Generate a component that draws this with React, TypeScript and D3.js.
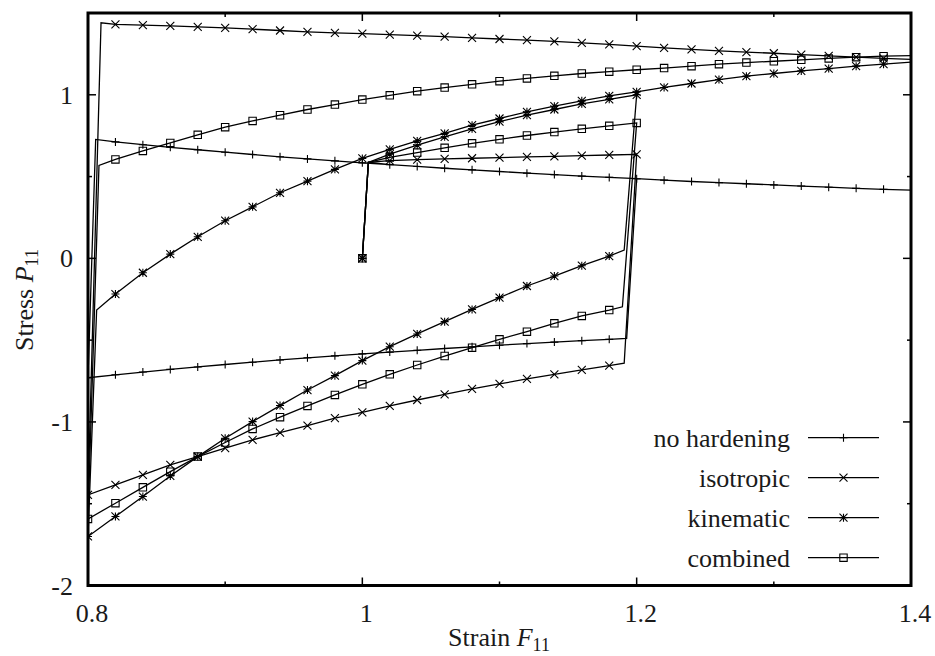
import React from "react";
import * as d3 from "d3";

// ---- data ----
const START = [1.0, 0.0];
const YIELD_PT = [1.0044, 0.587];

const STRAIN_A = [1.02, 1.04, 1.06, 1.08, 1.1, 1.12, 1.14, 1.16, 1.18, 1.2];
const STRAIN_B = [1.18, 1.16, 1.14, 1.12, 1.1, 1.08, 1.06, 1.04, 1.02, 1.0, 0.98, 0.96, 0.94, 0.92, 0.9, 0.88, 0.86, 0.84, 0.82, 0.8];
const STRAIN_C = [0.82, 0.84, 0.86, 0.88, 0.9, 0.92, 0.94, 0.96, 0.98, 1.0, 1.02, 1.04, 1.06, 1.08, 1.1, 1.12, 1.14, 1.16, 1.18, 1.2, 1.22, 1.24, 1.26, 1.28, 1.3, 1.32, 1.34, 1.36, 1.38];
const STRAIN_END = 1.4;

// no hardening
const NOHARD_A = [0.573, 0.562, 0.551, 0.541, 0.531, 0.521, 0.512, 0.503, 0.495, 0.487];
const NOHARD_UNLOAD = [1.1927, -0.489];
const NOHARD_B = [-0.495, -0.503, -0.512, -0.521, -0.531, -0.541, -0.551, -0.562, -0.573, -0.584, -0.596, -0.608, -0.621, -0.635, -0.649, -0.664, -0.679, -0.695, -0.712, -0.73];
const NOHARD_RELOAD = [0.8056, 0.727];
const NOHARD_C = [0.712, 0.695, 0.679, 0.664, 0.649, 0.635, 0.621, 0.608, 0.596, 0.584, 0.573, 0.562, 0.551, 0.541, 0.531, 0.521, 0.512, 0.503, 0.495, 0.487, 0.478, 0.47, 0.463, 0.456, 0.449, 0.442, 0.435, 0.428, 0.422];
const NOHARD_END = 0.417;

// isotropic
const ISO_A = [0.597, 0.603, 0.608, 0.612, 0.616, 0.62, 0.624, 0.628, 0.632, 0.636];
const ISO_UNLOAD = [1.1909, -0.641];
const ISO_B = [-0.656, -0.682, -0.709, -0.737, -0.768, -0.798, -0.831, -0.866, -0.902, -0.941, -0.977, -1.022, -1.065, -1.11, -1.16, -1.212, -1.263, -1.324, -1.385, -1.446];
const ISO_RELOAD = [0.8095, 1.44];
const ISO_C = [1.431, 1.426, 1.421, 1.415, 1.409, 1.401, 1.393, 1.385, 1.378, 1.374, 1.368, 1.362, 1.355, 1.348, 1.341, 1.334, 1.326, 1.317, 1.308, 1.297, 1.287, 1.278, 1.269, 1.261, 1.254, 1.246, 1.238, 1.23, 1.223];
const ISO_END = 1.217;

// kinematic
const KIN_A = [0.637, 0.692, 0.743, 0.792, 0.836, 0.875, 0.91, 0.945, 0.972, 1.0];
const KIN_UNLOAD = [1.1909, 0.051];
const KIN_B = [0.014, -0.045, -0.108, -0.169, -0.24, -0.312, -0.387, -0.462, -0.54, -0.625, -0.717, -0.805, -0.9, -0.998, -1.1, -1.212, -1.33, -1.456, -1.578, -1.7];
const KIN_RELOAD = [0.8063, -0.316];
const KIN_C = [-0.218, -0.088, 0.026, 0.132, 0.23, 0.315, 0.401, 0.472, 0.544, 0.611, 0.666, 0.718, 0.764, 0.814, 0.855, 0.896, 0.93, 0.963, 0.993, 1.018, 1.045, 1.069, 1.093, 1.114, 1.13, 1.146, 1.16, 1.175, 1.187];
const KIN_END = 1.2;

// combined
const COMB_A = [0.617, 0.647, 0.676, 0.703, 0.728, 0.751, 0.772, 0.792, 0.81, 0.828];
const COMB_UNLOAD = [1.1896, -0.296];
const COMB_B = [-0.316, -0.352, -0.397, -0.448, -0.495, -0.546, -0.597, -0.652, -0.709, -0.77, -0.835, -0.902, -0.971, -1.043, -1.126, -1.212, -1.304, -1.4, -1.497, -1.593];
const COMB_RELOAD = [0.808, 0.568];
const COMB_C = [0.605, 0.657, 0.706, 0.755, 0.802, 0.84, 0.875, 0.91, 0.94, 0.971, 0.997, 1.022, 1.044, 1.064, 1.083, 1.1, 1.116, 1.13, 1.141, 1.153, 1.163, 1.175, 1.187, 1.197, 1.205, 1.214, 1.222, 1.23, 1.236];
const COMB_END = 1.24;

const SERIES_NAMES = ["no hardening", "isotropic", "kinematic", "combined"];
const SERIES_MARKERS = ["plus", "cross", "star", "box"];

const X_MAJOR = [0.8, 1.0, 1.2, 1.4];
const X_LABELS = ["0.8", "1", "1.2", "1.4"];
const X_MINOR = [0.9, 1.1, 1.3];
const Y_MAJOR = [-2, -1, 0, 1];
const Y_LABELS = ["-2", "-1", "0", "1"];
const Y_MINOR = [-1.5, -0.5, 0.5];

const SERIES_DATA = [
  { a: NOHARD_A, unload: NOHARD_UNLOAD, b: NOHARD_B, reload: NOHARD_RELOAD, c: NOHARD_C, end: NOHARD_END },
  { a: ISO_A, unload: ISO_UNLOAD, b: ISO_B, reload: ISO_RELOAD, c: ISO_C, end: ISO_END },
  { a: KIN_A, unload: KIN_UNLOAD, b: KIN_B, reload: KIN_RELOAD, c: KIN_C, end: KIN_END },
  { a: COMB_A, unload: COMB_UNLOAD, b: COMB_B, reload: COMB_RELOAD, c: COMB_C, end: COMB_END },
];

type Pt = { f: number; p: number; m: boolean };

function buildPoints(s: any): Pt[] {
  const pts: Pt[] = [];
  pts.push({ f: START[0], p: START[1], m: true });
  pts.push({ f: YIELD_PT[0], p: YIELD_PT[1], m: false });
  STRAIN_A.forEach((f, i) => pts.push({ f, p: s.a[i], m: true }));
  pts.push({ f: s.unload[0], p: s.unload[1], m: false });
  STRAIN_B.forEach((f, i) => pts.push({ f, p: s.b[i], m: true }));
  pts.push({ f: s.reload[0], p: s.reload[1], m: false });
  STRAIN_C.forEach((f, i) => pts.push({ f, p: s.c[i], m: true }));
  pts.push({ f: STRAIN_END, p: s.end, m: false });
  return pts;
}

const W = 935;
const H = 656;
const L = 88;
const R = 911;
const T = 13;
const B = 585.5;
const FONT = "'Liberation Serif', 'Times New Roman', Times, serif";
const FS = 26;

function markerPath(type: string, cx: number, cy: number): string {
  const s = 4;
  const plus = `M${cx - s},${cy}H${cx + s}M${cx},${cy - s}V${cy + s}`;
  const cross = `M${cx - s},${cy - s}L${cx + s},${cy + s}M${cx - s},${cy + s}L${cx + s},${cy - s}`;
  const q = 3.7;
  const box = `M${cx - q},${cy - q}H${cx + q}V${cy + q}H${cx - q}Z`;
  if (type === "plus") return plus;
  if (type === "cross") return cross;
  if (type === "star") return plus + cross;
  return box;
}

export default function App() {
  const x = d3.scaleLinear().domain([0.8, 1.4]).range([L, R]);
  const y = d3.scaleLinear().domain([-2, 1.5]).range([B, T]);
  const line = d3
    .line<Pt>()
    .x((d) => x(d.f))
    .y((d) => y(d.p));

  const allPts = SERIES_DATA.map(buildPoints);

  const legendRows = [437.7, 477.7, 517.7, 557.7];

  return (
    <svg
      width={W}
      height={H}
      viewBox={`0 0 ${W} ${H}`}
      style={{ position: "absolute", left: 0, top: 0, background: "#fff" }}
      fontFamily={FONT}
    >
      <defs>
        <clipPath id="plotclip">
          <rect x={L} y={T} width={R - L} height={B - T} />
        </clipPath>
      </defs>
      <rect x={0} y={0} width={W} height={H} fill="#fff" />

      {/* ticks */}
      <g stroke="#000" strokeWidth={1.5}>
        {X_MAJOR.map((v) => (
          <g key={"xm" + v}>
            <line x1={x(v)} x2={x(v)} y1={B} y2={B - 8} />
            <line x1={x(v)} x2={x(v)} y1={T} y2={T + 8} />
          </g>
        ))}
        {X_MINOR.map((v) => (
          <g key={"xn" + v}>
            <line x1={x(v)} x2={x(v)} y1={B} y2={B - 4} />
            <line x1={x(v)} x2={x(v)} y1={T} y2={T + 4} />
          </g>
        ))}
        {Y_MAJOR.map((v) => (
          <g key={"ym" + v}>
            <line x1={L} x2={L + 8} y1={y(v)} y2={y(v)} />
            <line x1={R} x2={R - 8} y1={y(v)} y2={y(v)} />
          </g>
        ))}
        {Y_MINOR.map((v) => (
          <g key={"yn" + v}>
            <line x1={L} x2={L + 4} y1={y(v)} y2={y(v)} />
            <line x1={R} x2={R - 4} y1={y(v)} y2={y(v)} />
          </g>
        ))}
      </g>

      {/* tick labels */}
      <g fontSize={FS} fill="#1a1a1a">
        {X_MAJOR.map((v, i) => (
          <text key={"xl" + v} x={x(v) + 4} y={622} textAnchor="middle">
            {X_LABELS[i]}
          </text>
        ))}
        {Y_MAJOR.map((v, i) => (
          <text key={"yl" + v} x={73} y={y(v) + 9} textAnchor="end">
            {Y_LABELS[i]}
          </text>
        ))}
      </g>

      {/* axis titles */}
      <text x={499} y={646} textAnchor="middle" fontSize={FS} fill="#1a1a1a">
        Strain <tspan fontStyle="italic">F</tspan>
        <tspan fontSize={18} dy={5}>11</tspan>
      </text>
      <text
        transform="translate(33,300) rotate(-90)"
        textAnchor="middle"
        fontSize={FS}
        fill="#1a1a1a"
      >
        Stress <tspan fontStyle="italic">P</tspan>
        <tspan fontSize={18} dy={5}>11</tspan>
      </text>

      {/* series */}
      <g clipPath="url(#plotclip)">
        {allPts.map((pts, si) => (
          <g key={"s" + si}>
            <path d={line(pts) || ""} fill="none" stroke="#000" strokeWidth={1.3} strokeLinejoin="miter" />
            <path
              d={pts
                .filter((d) => d.m)
                .map((d) => markerPath(SERIES_MARKERS[si], x(d.f), y(d.p)))
                .join("")}
              fill="none"
              stroke="#000"
              strokeWidth={1.1}
            />
          </g>
        ))}
      </g>

      {/* legend */}
      <g fontSize={FS} fill="#1a1a1a">
        {SERIES_NAMES.map((name, i) => (
          <g key={"lg" + i}>
            <text x={790} y={legendRows[i] + 9} textAnchor="end">
              {name}
            </text>
            <line x1={808} x2={879} y1={legendRows[i]} y2={legendRows[i]} stroke="#000" strokeWidth={1.3} />
            <path d={markerPath(SERIES_MARKERS[i], 843.5, legendRows[i])} fill="none" stroke="#000" strokeWidth={1.1} />
          </g>
        ))}
      </g>

      {/* frame */}
      <rect x={L} y={T} width={R - L} height={B - T} fill="none" stroke="#000" strokeWidth={3} />
    </svg>
  );
}
